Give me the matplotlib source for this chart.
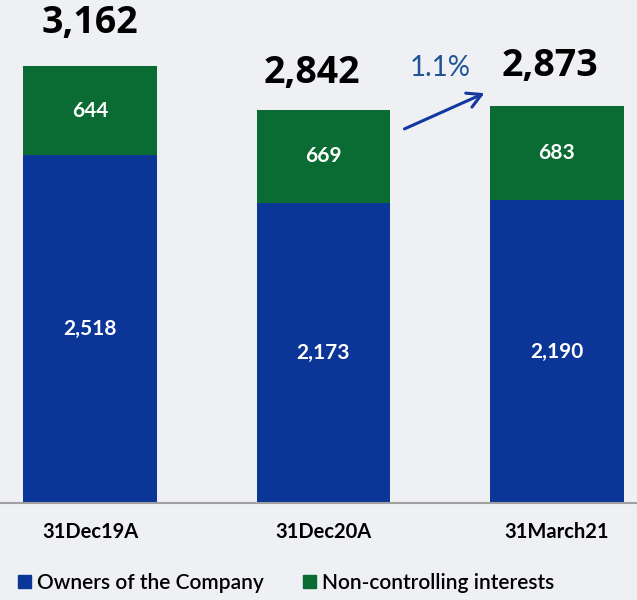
import matplotlib
matplotlib.use("Agg")
import matplotlib.pyplot as plt
from matplotlib.patches import Patch

categories = ["31Dec19A", "31Dec20A", "31March21"]
owners = [2518, 2173, 2190]
non_controlling = [644, 669, 683]
totals = [3162, 2842, 2873]
growth_label = "1.1%"
series_names = ["Owners of the Company", "Non-controlling interests"]

BLUE = "#0b3697"
GREEN = "#0a6b33"
BG = "#eef0f3"

plt.rcParams['font.family'] = ['Lato', 'DejaVu Sans']

fig = plt.figure(figsize=(6.37, 6.0), dpi=100, facecolor=BG)
ax = fig.add_axes([0, 97/600, 1, 503/600])
ax.set_facecolor(BG)

x = list(range(len(categories)))
width = 0.57
ax.bar(x, owners, width=width, color=BLUE, zorder=2)
ax.bar(x, non_controlling, width=width, bottom=owners, color=GREEN, zorder=2)

for i in x:
    ax.text(i, owners[i] / 2, f"{owners[i]:,}", ha='center', va='center',
            color='white', fontsize=15, fontweight='bold', zorder=3)
    ax.text(i, owners[i] + non_controlling[i] / 2, f"{non_controlling[i]:,}",
            ha='center', va='center', color='white', fontsize=15,
            fontweight='bold', zorder=3)

offsets = [24, 18, 21]
xshift = [0.0, -0.05, -0.03]
for i in x:
    ax.annotate(f"{totals[i]:,}", xy=(i + xshift[i], totals[i]),
                xytext=(0, offsets[i]), textcoords='offset pixels',
                ha='center', va='bottom', fontsize=27, fontweight='bold',
                color='black', family=['Open Sans', 'DejaVu Sans'])

# growth arrow
ax.annotate('', xy=(1.70, 2974), xytext=(1.336, 2699),
            arrowprops=dict(arrowstyle='->,head_length=1.0,head_width=0.55',
                            color='#1238a0', lw=2.2), zorder=4)
ax.text(1.50, 3148, growth_label, ha='center', va='center', fontsize=20,
        color='#1f5496')

ax.set_xlim(-90/233.5, (637-90)/233.5)
ax.set_ylim(0, 3640)
ax.set_yticks([])
ax.set_xticks(x)
ax.set_xticklabels(categories, fontsize=14.5, fontweight='bold')
ax.tick_params(axis='x', length=0, pad=14)
for s in ['top', 'right', 'left']:
    ax.spines[s].set_visible(False)
ax.spines['bottom'].set_color('#a0a0a0')
ax.spines['bottom'].set_linewidth(1.5)

handles = [Patch(color=BLUE), Patch(color=GREEN)]
fig.legend(handles, series_names, loc='center left', bbox_to_anchor=(18/637, 17/600),
           ncol=2, frameon=False, fontsize=15, handlelength=0.6,
           handleheight=0.6, handletextpad=0.3, columnspacing=1.9,
           borderaxespad=0, borderpad=0, prop={'weight': 'semibold', 'size': 15})

fig.savefig("out.png", dpi=100, facecolor=BG)
